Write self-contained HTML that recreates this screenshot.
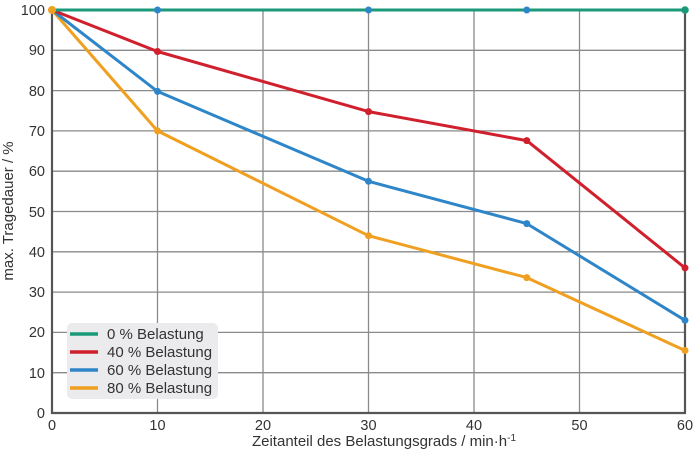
<!DOCTYPE html>
<html><head><meta charset="utf-8"><style>body{margin:0;background:#fff}svg{display:block}</style></head><body>
<svg width="696" height="452" xmlns="http://www.w3.org/2000/svg" font-family="Liberation Sans, sans-serif" font-size="14.5" fill="#333">
<g stroke="#8a8a8a" stroke-width="1.3">
<line x1="52" y1="50.3" x2="685" y2="50.3"/><line x1="52" y1="90.6" x2="685" y2="90.6"/><line x1="52" y1="130.9" x2="685" y2="130.9"/><line x1="52" y1="171.2" x2="685" y2="171.2"/><line x1="52" y1="211.5" x2="685" y2="211.5"/><line x1="52" y1="251.8" x2="685" y2="251.8"/><line x1="52" y1="292.1" x2="685" y2="292.1"/><line x1="52" y1="332.4" x2="685" y2="332.4"/><line x1="52" y1="372.7" x2="685" y2="372.7"/>
<line x1="157.5" y1="10" x2="157.5" y2="413"/><line x1="263" y1="10" x2="263" y2="413"/><line x1="368.5" y1="10" x2="368.5" y2="413"/><line x1="474" y1="10" x2="474" y2="413"/><line x1="579.5" y1="10" x2="579.5" y2="413"/>
</g>
<g stroke="#555" stroke-width="2.2" fill="none"><polyline points="52,10 52,413 685,413 685,10"/></g>
<rect x="67" y="323" width="151" height="76" rx="5" fill="#ebebed"/>
<g stroke-width="3.5"><line x1="70" y1="334" x2="98" y2="334" stroke="#1a9a7a"/><line x1="70" y1="352" x2="98" y2="352" stroke="#d0202e"/><line x1="70" y1="370" x2="98" y2="370" stroke="#2e86c8"/><line x1="70" y1="388" x2="98" y2="388" stroke="#f0a020"/></g>
<g font-size="15"><text x="107" y="339">0 % Belastung</text><text x="107" y="357">40 % Belastung</text><text x="107" y="375">60 % Belastung</text><text x="107" y="393">80 % Belastung</text></g>
<g fill="none" stroke-width="3" stroke-linejoin="round">
<polyline stroke="#f0a020" points="52,10 157.5,130.9 368.5,235.7 526.75,277.6 685,350.5"/>
<polyline stroke="#2e86c8" points="52,10 157.5,91.4 368.5,181.3 526.75,223.6 685,320.3"/>
<polyline stroke="#d0202e" points="52,10 157.5,51.5 368.5,111.6 526.75,140.6 685,267.9"/>
<polyline stroke="#1a9a7a" points="52,10 685,10"/>
</g>
<g fill="#f0a020"><circle cx="157.5" cy="130.9" r="3.5"/><circle cx="368.5" cy="235.7" r="3.5"/><circle cx="526.75" cy="277.6" r="3.5"/><circle cx="685" cy="350.5" r="3.5"/></g>
<g fill="#2e86c8"><circle cx="157.5" cy="91.4" r="3.5"/><circle cx="368.5" cy="181.3" r="3.5"/><circle cx="526.75" cy="223.6" r="3.5"/><circle cx="685" cy="320.3" r="3.5"/><circle cx="157.5" cy="10" r="3.5"/><circle cx="368.5" cy="10" r="3.5"/><circle cx="526.75" cy="10" r="3.5"/></g>
<g fill="#d0202e"><circle cx="157.5" cy="51.5" r="3.5"/><circle cx="368.5" cy="111.6" r="3.5"/><circle cx="526.75" cy="140.6" r="3.5"/><circle cx="685" cy="267.9" r="3.5"/></g>
<circle cx="685" cy="10" r="3.8" fill="#1a9a7a"/><circle cx="52" cy="10" r="4" fill="#f0a020"/>
<g text-anchor="end"><text x="45" y="15">100</text><text x="45" y="55">90</text><text x="45" y="96">80</text><text x="45" y="136">70</text><text x="45" y="176">60</text><text x="45" y="217">50</text><text x="45" y="257">40</text><text x="45" y="297">30</text><text x="45" y="337">20</text><text x="45" y="378">10</text><text x="45" y="418">0</text></g>
<g text-anchor="middle"><text x="52" y="430">0</text><text x="157.5" y="430">10</text><text x="263" y="430">20</text><text x="368.5" y="430">30</text><text x="474" y="430">40</text><text x="579.5" y="430">50</text><text x="685" y="430">60</text>
<text x="384" y="446" font-size="15">Zeitanteil des Belastungsgrads / min·h<tspan dy="-5" font-size="10">-1</tspan></text>
<text transform="translate(13,211) rotate(-90)" font-size="15">max. Tragedauer / %</text></g>
</svg>
</body></html>
